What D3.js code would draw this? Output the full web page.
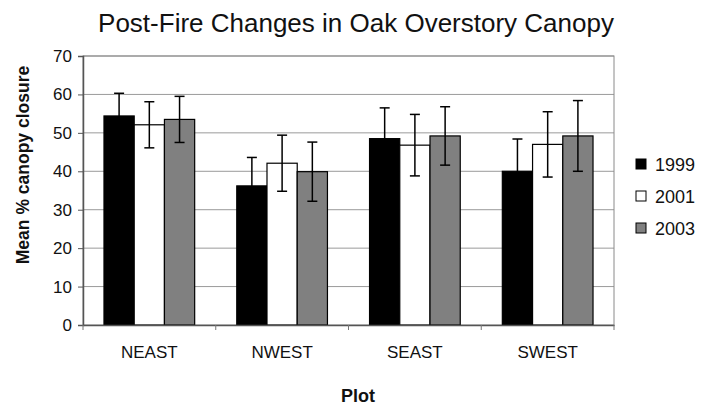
<!DOCTYPE html>
<html>
<head>
<meta charset="utf-8">
<script src="https://cdn.jsdelivr.net/npm/d3@7"></script>
<style>
  body { margin: 0; background: #fff; }
  svg { font-family: "Liberation Sans", Arial, sans-serif; }
</style>
</head>
<body>
<div id="chart"></div>
<script>
var plots = ["NEAST", "NWEST", "SEAST", "SWEST"];
var years = ["1999", "2001", "2003"];
var mean1999 = [54.4, 36.2, 48.5, 40.0];
var mean2001 = [52.1, 42.1, 46.8, 47.0];
var mean2003 = [53.5, 39.9, 49.2, 49.2];
var err1999 = [5.9, 7.4, 8.0, 8.4];
var err2001 = [6.0, 7.3, 8.0, 8.5];
var err2003 = [6.0, 7.7, 7.6, 9.2];
var yTicks = [0, 10, 20, 30, 40, 50, 60, 70];

var means = [mean1999, mean2001, mean2003];
var errs = [err1999, err2001, err2003];

var width = 717, height = 405;
var margin = {top: 56, right: 103, bottom: 80, left: 83};
var chartWidth = width - margin.left - margin.right;
var chartHeight = height - margin.top - margin.bottom;

var svg = d3.select('#chart').append('svg')
    .attr('width', width)
    .attr('height', height);

var g = svg.append('g')
    .attr('transform', `translate(${margin.left}, ${margin.top})`);

var xScale = d3.scaleBand()
    .domain(plots)
    .range([0, chartWidth])
    .paddingInner(0.317)
    .paddingOuter(0.158);

var xInner = d3.scaleBand()
    .domain(years)
    .range([0, xScale.bandwidth()]);

var yScale = d3.scaleLinear()
    .domain([0, 70])
    .range([chartHeight, 0]);

var color = d3.scaleOrdinal()
    .domain(years)
    .range(["#000000", "#ffffff", "#808080"]);

// gridlines
g.append('g')
  .selectAll('line')
  .data(yTicks.slice(1))
  .join('line')
    .attr('x1', 0)
    .attr('x2', chartWidth)
    .attr('y1', d => yScale(d))
    .attr('y2', d => yScale(d))
    .attr('stroke', '#9a9a9a')
    .attr('stroke-width', 1);

// plot border
g.append('rect')
    .attr('x', 0).attr('y', 0)
    .attr('width', chartWidth).attr('height', chartHeight)
    .attr('fill', 'none')
    .attr('stroke', '#8a8a8a');

var rows = plots.map((p, i) => ({plot: p, vals: years.map((y, j) => ({year: y, v: means[j][i], e: errs[j][i]}))}));

var groups = g.append('g')
  .selectAll('g')
  .data(rows)
  .join('g')
    .attr('transform', d => `translate(${xScale(d.plot)},0)`);

groups.selectAll('rect')
  .data(d => d.vals)
  .join('rect')
    .attr('x', d => xInner(d.year))
    .attr('y', d => yScale(d.v))
    .attr('width', xInner.bandwidth())
    .attr('height', d => chartHeight - yScale(d.v))
    .attr('fill', d => color(d.year))
    .attr('stroke', '#000')
    .attr('stroke-width', 1.2);

// error bars
var eb = groups.selectAll('g.err')
  .data(d => d.vals)
  .join('g')
    .attr('class', 'err')
    .attr('stroke', '#000')
    .attr('stroke-width', 1.5);
eb.append('line')
    .attr('x1', d => xInner(d.year) + xInner.bandwidth() / 2)
    .attr('x2', d => xInner(d.year) + xInner.bandwidth() / 2)
    .attr('y1', d => yScale(d.v + d.e))
    .attr('y2', d => yScale(d.v - d.e));
eb.selectAll('line.cap')
  .data(d => [d.v + d.e, d.v - d.e].map(y => ({year: d.year, y: y})))
  .join('line')
    .attr('class', 'cap')
    .attr('x1', d => xInner(d.year) + xInner.bandwidth() / 2 - 5)
    .attr('x2', d => xInner(d.year) + xInner.bandwidth() / 2 + 5)
    .attr('y1', d => yScale(d.y))
    .attr('y2', d => yScale(d.y));

// y axis
var yAxis = d3.axisLeft(yScale).tickValues(yTicks).tickSize(5).tickPadding(6);
var yg = g.append('g').call(yAxis);
yg.select('.domain').attr('stroke', '#555').attr('stroke-width', 1.5);
yg.selectAll('.tick line').attr('stroke', '#555');
yg.selectAll('text').style('font-size', '17px').attr('fill', '#111');

// x axis
var xAxis = d3.axisBottom(xScale).tickSize(0).tickPadding(21);
var xg = g.append('g')
    .attr('transform', `translate(0,${chartHeight})`)
    .call(xAxis);
xg.select('.domain').attr('stroke', '#555').attr('stroke-width', 1.5);
xg.selectAll('text').style('font-size', '17px').attr('fill', '#111');
// boundary ticks
xg.append('g')
  .selectAll('line')
  .data(d3.range(plots.length + 1))
  .join('line')
    .attr('x1', d => d * chartWidth / plots.length)
    .attr('x2', d => d * chartWidth / plots.length)
    .attr('y1', 0).attr('y2', 5)
    .attr('stroke', '#777');

// title
svg.append('text')
    .attr('x', 356).attr('y', 32)
    .attr('text-anchor', 'middle')
    .style('font-size', '26px')
    .attr('fill', '#111')
    .text('Post-Fire Changes in Oak Overstory Canopy');

svg.append('text')
    .attr('transform', 'translate(29,165) rotate(-90)')
    .attr('text-anchor', 'middle')
    .style('font-size', '17.5px')
    .style('font-weight', 'bold')
    .attr('fill', '#111')
    .text('Mean % canopy closure');

svg.append('text')
    .attr('x', 358).attr('y', 402)
    .attr('text-anchor', 'middle')
    .style('font-size', '18px')
    .style('font-weight', 'bold')
    .attr('fill', '#111')
    .text('Plot');

// legend
var legend = svg.append('g')
  .selectAll('g')
  .data(years)
  .join('g')
    .attr('transform', (d, i) => `translate(636,${164 + i * 32})`);
legend.append('rect')
    .attr('x', 0).attr('y', -5)
    .attr('width', 10).attr('height', 10)
    .attr('fill', d => color(d))
    .attr('stroke', '#000');
legend.append('text')
    .attr('x', 19).attr('y', 7)
    .style('font-size', '18px')
    .attr('fill', '#111')
    .text(d => d);
</script>
</body>
</html>
